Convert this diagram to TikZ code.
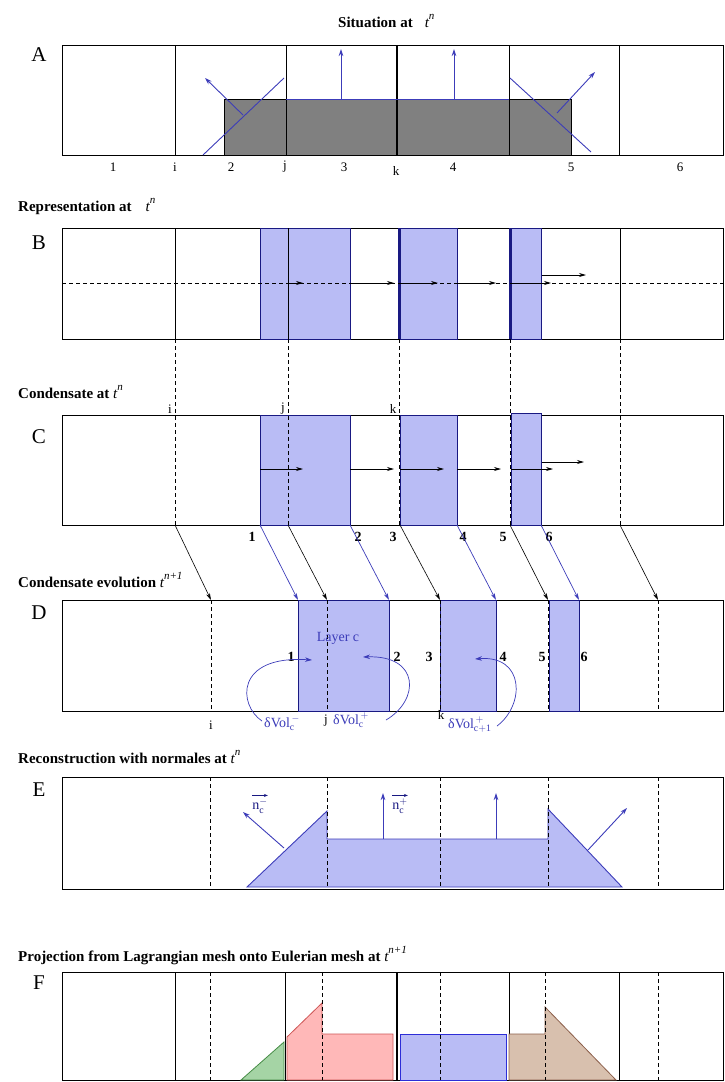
\documentclass[tikz,border=0pt]{standalone}
\usepackage{fontspec}
\setmainfont{Liberation Serif}
\usepackage{amsmath}
\usetikzlibrary{arrows.meta,positioning}
\definecolor{condfill}{RGB}{185,188,245}
\definecolor{condline}{RGB}{25,25,130}
\definecolor{normblue}{RGB}{60,60,185}
\definecolor{cellgrey}{RGB}{128,128,128}
\definecolor{pinkfill}{RGB}{255,184,184}
\definecolor{pinkline}{RGB}{205,85,85}
\definecolor{greenfill}{RGB}{165,212,165}
\definecolor{greenline}{RGB}{70,140,70}
\definecolor{tanfill}{RGB}{216,192,174}
\definecolor{tanline}{RGB}{140,95,75}
\definecolor{projblue}{RGB}{45,45,215}
\newcommand{\tsup}[1]{{\normalfont\itshape t}\raisebox{1.1ex}{\normalfont\itshape\fontsize{11}{12}\selectfont #1}}

\begin{document}
\begin{tikzpicture}[x=1pt,y=-1pt,
 pbox/.style={draw,line width=0.9pt},
 cell/.style={line width=0.7pt},
 dsh/.style={dash pattern=on 4pt off 3pt,line width=0.6pt},
 cond/.style={draw=condline,fill=condfill,line width=0.9pt},
 nrm/.style={-{Stealth[length=7pt,width=4.5pt]},normblue,line width=0.9pt},
 mv/.style={-{Stealth[length=7pt,width=4pt]},line width=0.7pt},
 ttl/.style={font=\fontsize{15}{17}\selectfont\bfseries,anchor=base west,inner sep=0pt},
 pl/.style={font=\fontsize{21}{24}\selectfont,inner sep=0pt},
 num/.style={font=\fontsize{13}{15}\selectfont,inner sep=0pt},
 bnum/.style={font=\fontsize{14}{16}\selectfont\bfseries,inner sep=0pt},
 bl/.style={font=\fontsize{14}{16}\selectfont,text=normblue,inner sep=0pt}]
\useasboundingbox (0,0) rectangle (724,1082);

% titles and panel letters
\node[ttl] (tsit) at (338,27) {Situation at\hspace{12pt}\tsup{n}};
\node[ttl] (trep) at (18,211) {Representation at\hspace{14pt}\tsup{n}};
\node[ttl] (tcon) at (18,398) {Condensate at \tsup{n}};
\node[ttl] (tevo) at (18,587) {Condensate evolution \tsup{n+1}};
\node[ttl] (trec) at (18,763) {Reconstruction with normales at \tsup{n}};
\node[ttl] (tpro) at (18,961) {Projection from Lagrangian mesh onto Eulerian mesh at \tsup{n+1}};
\foreach \p/\y in {A/55,B/243,C/437,D/613,E/790,F/983}
  \node[pl] (l\p) at (39,\y) {\p};

% A : situation
\draw[fill=cellgrey] (224,99) rectangle (571,155);
\foreach \x in {175,286,509,619} \draw[cell] (\x,45) -- (\x,155);
\draw[line width=1.4pt] (397,45) -- (397,155);
\draw[pbox] (62,45) rectangle (723,155);
\draw[normblue,line width=0.9pt] (286,99) -- (509,99);
\draw[normblue,line width=0.9pt] (203,155) -- (284,78);
\draw[normblue,line width=0.9pt] (510,78) -- (591,152);
\draw[nrm] (243,115) -- (205,78);
\draw[nrm] (557,113) -- (595,72);
\draw[nrm] (341,99) -- (341,49);
\draw[nrm] (454,99) -- (454,49);
\foreach \t/\x/\y in {1/113/167,i/175/167,2/231/167,j/285/167,3/344/167,k/396/171,4/453/167,5/571/167,6/680/167}
  \node[num] (a\t) at (\x,\y) {\t};

% B : representation
\draw[pbox] (62,228) rectangle (723,339);
\foreach \l/\r in {260/350,400/457,511/541} \draw[cond] (\l,228) rectangle (\r,339);
\foreach \x in {175,288,620} \draw[cell] (\x,228) -- (\x,339);
\foreach \x in {399,510} \draw[condline,line width=1.6pt] (\x,228) -- (\x,339);
\draw[dsh] (62,283) -- (723,283);
\foreach \a/\b in {288/303,350/394,400/438,457/496,511/551} \draw[mv] (\a,283) -- (\b,283);
\draw[mv] (542,275) -- (586,275);

% C : condensate
\draw[pbox] (62,415) rectangle (723,525);
\draw[cond] (260,415) rectangle (350,525);
\draw[cond] (400,415) rectangle (457,525);
\draw[cond] (511,413) rectangle (541,525);
\foreach \x in {175,288,399,510,620} \draw[dsh] (\x,339) -- (\x,525);
\foreach \a/\b in {260/303,350/394,400/444,457/501,511/553} \draw[mv] (\a,469) -- (\b,469);
\draw[mv] (542,462) -- (584,462);
\foreach \t/\x in {i/170,j/283,k/393} \node[num] (c\t) at (\x,409) {\t};
\foreach \t/\x in {1/252,2/358,3/393,4/463,5/503,6/549} \node[bnum] (cn\t) at (\x,537) {\t};

% C -> D
\foreach \a/\b [count=\n] in {175/211,288/327,400/440,510/548,620/658}{
  \coordinate (cb\n) at (\a,525); \coordinate (dt\n) at (\b,600);
  \draw[mv,line width=0.6pt] (cb\n) -- (dt\n);}
\foreach \a/\b [count=\n] in {260/298,350/389,457/496,541/579}{
  \coordinate (cl\n) at (\a,525); \coordinate (dl\n) at (\b,600);
  \draw[mv,normblue,line width=0.7pt] (cl\n) -- (dl\n);}

% D : evolution
\draw[pbox] (62,600) rectangle (723,711);
\foreach \l/\r in {298/389,440/496,549/579} \draw[cond] (\l,600) rectangle (\r,711);
\foreach \x in {211,327,440,548,658} \draw[dsh] (\x,600) -- (\x,711);
\node[bl] (layc) at (338,638) {Layer c};
\foreach \t/\x in {1/291,2/397,3/429,4/503,5/542,6/584} \node[bnum] (dn\t) at (\x,657) {\t};
\node[num] (di) at (211,725) {i};
\node[num] (dj) at (326,721) {j};
\node[num] (dk) at (441,715) {k};
\node[bl,anchor=base west] (vm) at (264,727) {δVol$^{\,-}_{\mathrm{c}}$};
\node[bl,anchor=base west] (vp) at (333,724) {δVol$^{\,+}_{\mathrm{c}}$};
\node[bl,anchor=base west] (vq) at (448,728) {δVol$^{\,+}_{\mathrm{c+1}}$};
\draw[nrm,line width=0.7pt] (262,721) .. controls (238,705) and (235,655) .. (312,660);
\draw[nrm,line width=0.7pt] (386,720) .. controls (420,700) and (420,655) .. (363,657);
\draw[nrm,line width=0.7pt] (497,726) .. controls (525,705) and (525,655) .. (475,659);

% E : reconstruction
\draw[pbox] (62,777) rectangle (723,889);
\draw[cond,draw=normblue] (247,887) -- (327,811) -- (327,839) -- (548,839) -- (548,809) -- (622,887) -- cycle;
\foreach \x in {210,327,440,548,658} \draw[dsh] (\x,777) -- (\x,889);
\draw[nrm] (284,848) -- (243,812);
\draw[nrm] (588,850) -- (627,808);
\draw[nrm] (383,839) -- (383,793);
\draw[nrm] (496,839) -- (496,793);
\node[bl,text=condline] (nm) at (260,806) {n$^{-}_{\mathrm{c}}$};
\node[bl,text=condline] (np) at (400,806) {n$^{+}_{\mathrm{c}}$};
\draw[-{Stealth[length=4pt,width=3pt]},condline,line width=0.6pt] ([yshift=3pt]nm.north west) -- ([yshift=3pt]nm.north east);
\draw[-{Stealth[length=4pt,width=3pt]},condline,line width=0.6pt] ([yshift=3pt]np.north west) -- ([yshift=3pt]np.north east);

% F : projection
\draw[pbox] (62,972) rectangle (723,1080);
\foreach \x in {175,285,509,619} \draw[cell] (\x,972) -- (\x,1080);
\draw[line width=1.4pt] (397,972) -- (397,1080);
\draw[draw=greenline,fill=greenfill,line width=0.8pt] (241,1080) -- (284,1042) -- (284,1080) -- cycle;
\draw[draw=pinkline,fill=pinkfill,line width=0.8pt] (287,1080) -- (287,1037) -- (322,1003) -- (322,1034) -- (393,1034) -- (393,1080) -- cycle;
\draw[draw=projblue,fill=condfill,line width=0.9pt] (400,1034) rectangle (506,1080);
\draw[draw=tanline,fill=tanfill,line width=0.8pt] (509,1080) -- (509,1034) -- (545,1034) -- (545,1007) -- (616,1080) -- cycle;
\foreach \x in {210,322,440,545,658} \draw[dsh] (\x,972) -- (\x,1080);
\end{tikzpicture}
\end{document}
